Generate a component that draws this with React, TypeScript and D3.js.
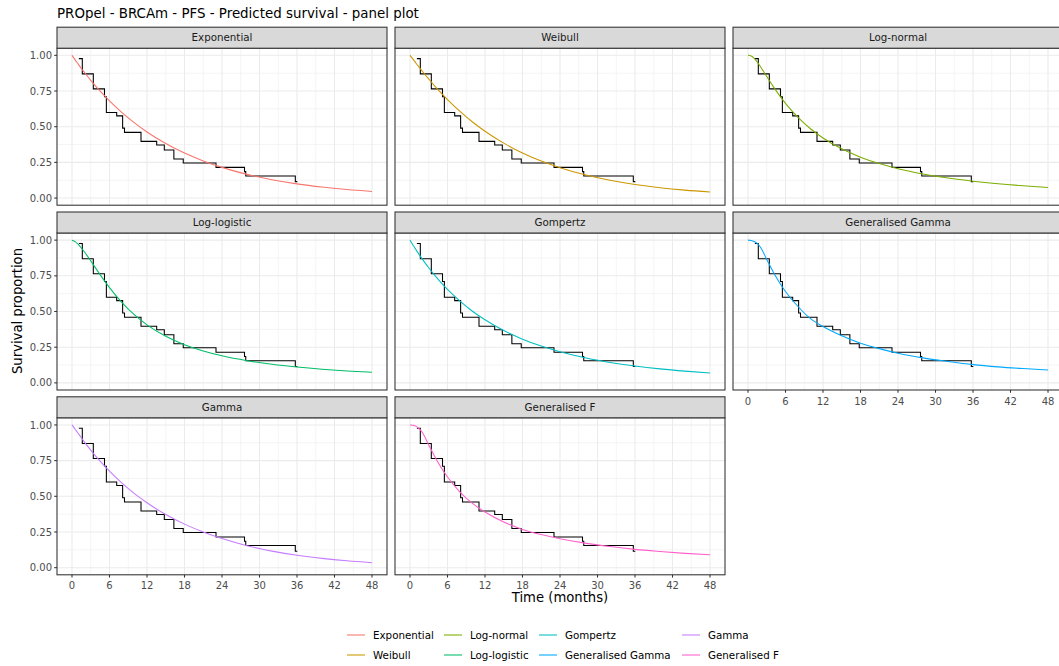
import React from "react";
import * as d3 from "d3";

const TITLE = "PROpel - BRCAm - PFS - Predicted survival - panel plot";
const X_TITLE = "Time (months)";
const Y_TITLE = "Survival proportion";

const models = [
  "Exponential",
  "Weibull",
  "Log-normal",
  "Log-logistic",
  "Gompertz",
  "Generalised Gamma",
  "Gamma",
  "Generalised F",
];
const colors = ["#F8766D", "#CD9600", "#7CAE00", "#00BE67", "#00BFC4", "#00A9FF", "#C77CFF", "#FF61CC"];

const xTicks = [0, 6, 12, 18, 24, 30, 36, 42, 48];
const xMinor = [3, 9, 15, 21, 27, 33, 39, 45];
const yTicks = [0, 0.25, 0.5, 0.75, 1];
const yMinor = [0.125, 0.375, 0.625, 0.875];

// Kaplan-Meier (step after)
const kmTime = [1.1, 1.65, 3.41, 5.2, 5.5, 7.15, 8.1, 8.4, 11.04, 13.55, 14.77, 16.3, 17.8, 23.04, 27.6, 27.8, 35.73, 36.05];
const kmSurv = [0.977, 0.87, 0.765, 0.71, 0.6, 0.576, 0.49, 0.46, 0.397, 0.372, 0.337, 0.274, 0.246, 0.215, 0.185, 0.155, 0.115, 0.115];

// Predicted survival curves
const predTime = [0, 0.5, 1, 1.5, 2, 3, 4, 5, 6, 8, 10, 12, 15, 18, 21, 24, 28, 32, 36, 40, 44, 48];
const sExponential = [1, 0.968, 0.938, 0.908, 0.88, 0.825, 0.774, 0.726, 0.681, 0.599, 0.527, 0.463, 0.382, 0.315, 0.26, 0.215, 0.166, 0.129, 0.0995, 0.077, 0.0596, 0.046];
const sWeibull = [1, 0.972, 0.943, 0.915, 0.887, 0.834, 0.783, 0.735, 0.69, 0.607, 0.533, 0.4685, 0.385, 0.316, 0.259, 0.2126, 0.163, 0.1247, 0.0953, 0.0728, 0.0556, 0.0424];
const sLogNormal = [1, 0.996, 0.979, 0.952, 0.92, 0.852, 0.784, 0.721, 0.663, 0.565, 0.4855, 0.421, 0.345, 0.2865, 0.2414, 0.2057, 0.1686, 0.1402, 0.118, 0.1003, 0.0861, 0.0745];
const sLogLogistic = [1, 0.9895, 0.97, 0.945, 0.9168, 0.8545, 0.79, 0.7268, 0.6672, 0.5622, 0.476, 0.4065, 0.3264, 0.2676, 0.2234, 0.1895, 0.1555, 0.1302, 0.111, 0.0958, 0.0837, 0.074];
const sGompertz = [1, 0.964, 0.93, 0.897, 0.8655, 0.8062, 0.7516, 0.7013, 0.655, 0.5727, 0.502, 0.4418, 0.3666, 0.3062, 0.2575, 0.2178, 0.1757, 0.1433, 0.118, 0.098, 0.0822, 0.0694];
const sGenGamma = [1, 0.998, 0.99, 0.975, 0.95, 0.865, 0.78, 0.705, 0.64, 0.535, 0.45, 0.395, 0.33, 0.278, 0.24, 0.208, 0.175, 0.15, 0.128, 0.112, 0.1, 0.09];
const sGamma = [1, 0.97, 0.94, 0.91, 0.88, 0.824, 0.771, 0.722, 0.676, 0.592, 0.519, 0.455, 0.372, 0.305, 0.25, 0.204, 0.154, 0.116, 0.087, 0.065, 0.048, 0.035];
const sGenF = [1, 0.998, 0.99, 0.972, 0.945, 0.86, 0.775, 0.7, 0.635, 0.53, 0.45, 0.39, 0.32, 0.268, 0.232, 0.203, 0.172, 0.148, 0.128, 0.113, 0.1, 0.09];

const curves = [sExponential, sWeibull, sLogNormal, sLogLogistic, sGompertz, sGenGamma, sGamma, sGenF];

// legend layout order (column-wise)
const legendOrder = [0, 1, 2, 3, 4, 5, 6, 7];

const W = 1059;
const H = 666;
const FONT = "DejaVu Sans, Verdana, sans-serif";

export default function App() {
  const colLeft0 = 57;
  const colStep = 338;
  const panelW = 330;
  const rowTop0 = 27.2;
  const rowStep = 184.8;
  const stripH = 21;
  const panelH = 157;

  const kmData = kmTime.map((t, i) => [t, kmSurv[i]] as [number, number]);

  const panels = models.map((name, i) => {
    const row = Math.floor(i / 3);
    const col = i % 3;
    const left = colLeft0 + col * colStep;
    const stripTop = rowTop0 + row * rowStep;
    const top = stripTop + stripH;
    const bottom = top + panelH;
    const x = d3.scaleLinear().domain([-2.4, 50.4]).range([left, left + panelW]);
    const y = d3.scaleLinear().domain([-0.05, 1.05]).range([bottom, top]);
    const km = d3
      .line<[number, number]>()
      .x((d) => x(d[0]))
      .y((d) => y(d[1]))
      .curve(d3.curveStepAfter)(kmData);
    const pred = d3
      .line<number>()
      .x((_, j) => x(predTime[j]))
      .y((d) => y(d))
      .curve(d3.curveMonotoneX)(curves[i]);
    const showX = i + 3 >= models.length;
    const showY = col === 0;
    return (
      <g key={name}>
        <rect x={left} y={top} width={panelW} height={panelH} fill="#FFFFFF" />
        {xMinor.map((v) => (
          <line key={"xm" + v} x1={x(v)} x2={x(v)} y1={top} y2={bottom} stroke="#EBEBEB" strokeWidth={0.55} />
        ))}
        {yMinor.map((v) => (
          <line key={"ym" + v} x1={left} x2={left + panelW} y1={y(v)} y2={y(v)} stroke="#EBEBEB" strokeWidth={0.55} />
        ))}
        {xTicks.map((v) => (
          <line key={"xM" + v} x1={x(v)} x2={x(v)} y1={top} y2={bottom} stroke="#EBEBEB" strokeWidth={1.07} />
        ))}
        {yTicks.map((v) => (
          <line key={"yM" + v} x1={left} x2={left + panelW} y1={y(v)} y2={y(v)} stroke="#EBEBEB" strokeWidth={1.07} />
        ))}
        <path d={km || ""} fill="none" stroke="#000000" strokeWidth={1.07} />
        <path d={pred || ""} fill="none" stroke={colors[i]} strokeWidth={1.07} />
        <rect x={left} y={top} width={panelW} height={panelH} fill="none" stroke="#333333" strokeWidth={1.07} />
        <rect x={left} y={stripTop} width={panelW} height={stripH} fill="#D9D9D9" stroke="#333333" strokeWidth={1.07} />
        <text
          x={left + panelW / 2}
          y={stripTop + stripH / 2 + 3.7}
          textAnchor="middle"
          fontFamily={FONT}
          fontSize={10.3}
          fill="#1A1A1A"
        >
          {name}
        </text>
        {showX &&
          xTicks.map((v) => (
            <g key={"xt" + v}>
              <line x1={x(v)} x2={x(v)} y1={bottom} y2={bottom + 2.75} stroke="#333333" strokeWidth={1.07} />
              <text x={x(v)} y={bottom + 14.5} textAnchor="middle" fontFamily={FONT} fontSize={10} fill="#4D4D4D">
                {v}
              </text>
            </g>
          ))}
        {showY &&
          yTicks.map((v) => (
            <g key={"yt" + v}>
              <line x1={left - 2.75} x2={left} y1={y(v)} y2={y(v)} stroke="#333333" strokeWidth={1.07} />
              <text x={left - 5} y={y(v) + 3.6} textAnchor="end" fontFamily={FONT} fontSize={10} fill="#4D4D4D">
                {v.toFixed(2)}
              </text>
            </g>
          ))}
      </g>
    );
  });

  const legendCols = [347, 444, 539, 682];
  const legendRows = [635, 655];

  return (
    <svg
      width={W}
      height={H}
      style={{ position: "absolute", left: 0, top: 0, background: "#FFFFFF" }}
      xmlns="http://www.w3.org/2000/svg"
    >
      <rect x={0} y={0} width={W} height={H} fill="#FFFFFF" />
      <text x={57} y={18} fontFamily={FONT} fontSize={13.4} fill="#000000">
        {TITLE}
      </text>
      {panels}
      <text x={560} y={602} textAnchor="middle" fontFamily={FONT} fontSize={13.2} fill="#000000">
        {X_TITLE}
      </text>
      <text
        transform={`translate(22, 311) rotate(-90)`}
        textAnchor="middle"
        fontFamily={FONT}
        fontSize={13.2}
        fill="#000000"
      >
        {Y_TITLE}
      </text>
      {legendOrder.map((mi, k) => {
        const c = Math.floor(k / 2);
        const r = k % 2;
        const lx = legendCols[c];
        const ly = legendRows[r];
        return (
          <g key={"lg" + mi}>
            <line x1={lx} x2={lx + 18} y1={ly} y2={ly} stroke={colors[mi]} strokeWidth={1.07} />
            <text x={lx + 26} y={ly + 3.7} fontFamily={FONT} fontSize={10.3} fill="#000000">
              {models[mi]}
            </text>
          </g>
        );
      })}
    </svg>
  );
}
